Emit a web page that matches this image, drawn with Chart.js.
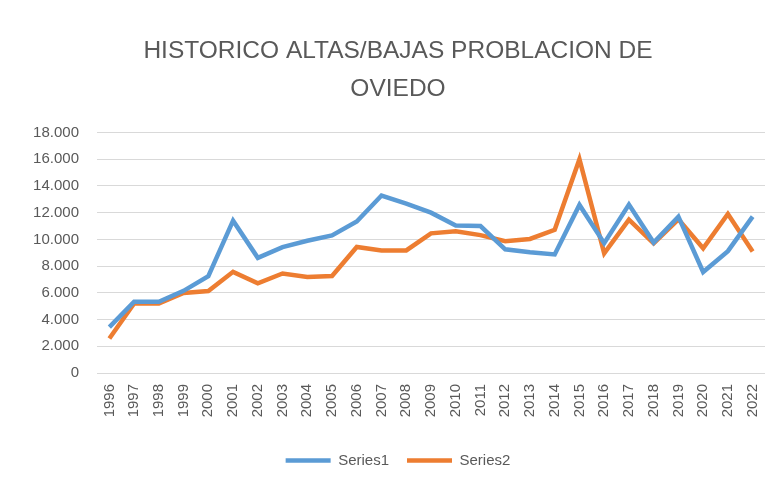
<!DOCTYPE html>
<html>
<head>
<meta charset="utf-8">
<script src="https://cdn.jsdelivr.net/npm/chart.js@4"></script>
<style>
  body { margin: 0; background: #fff; }
  #wrap { width: 775px; height: 484px; }
</style>
</head>
<body>
<div id="wrap"><canvas id="graphCanvas" width="775" height="484"></canvas></div>
<script>
var years = ['1996','1997','1998','1999','2000','2001','2002','2003','2004','2005','2006','2007','2008',
             '2009','2010','2011','2012','2013','2014','2015','2016','2017','2018','2019','2020','2021','2022'];
var series1 = [3430, 5330, 5330, 6150, 7250, 11400, 8620, 9420, 9900, 10300, 11340, 13280, 12680,
               12000, 11030, 11000, 9260, 9030, 8870, 12580, 9720, 12600, 9760, 11700, 7560, 9120, 11700];
var series2 = [2580, 5210, 5210, 5990, 6130, 7570, 6710, 7450, 7190, 7260, 9430, 9170, 9170,
               10450, 10600, 10320, 9860, 10030, 10720, 16000, 8960, 11480, 9700, 11500, 9330, 11900, 9100];
var seriesNames = ['Series1', 'Series2'];
var titleLines = ['HISTORICO ALTAS/BAJAS PROBLACION DE', 'OVIEDO'];

var fontFam = '"Liberation Sans Narrow", "Liberation Sans", Arial, sans-serif';
var textCol = '#595959';

function puntos(v) {
    return String(v).replace(/\B(?=(\d{3})+(?!\d))/g, '.');
}

var chartdata = {
    labels: years,
    datasets: [
        {
            label: seriesNames[0],
            data: series1,
            borderColor: '#5B9BD5',
            backgroundColor: '#5B9BD5',
            borderWidth: 4.5,
            pointRadius: 0,
            tension: 0
        },
        {
            label: seriesNames[1],
            data: series2,
            borderColor: '#ED7D31',
            backgroundColor: '#ED7D31',
            borderWidth: 4.5,
            pointRadius: 0,
            tension: 0
        }
    ]
};

var graph = new Chart(document.getElementById('graphCanvas'), {
    type: 'line',
    data: chartdata,
    options: {
        responsive: false,
        animation: false,
        layout: { padding: { left: 31, right: 10, top: 0, bottom: 6 } },
        plugins: {
            tooltip: { enabled: false },
            title: {
                display: true,
                text: titleLines,
                color: textCol,
                font: { family: fontFam, size: 24.5, weight: 'normal', lineHeight: 1.52 },
                padding: { top: 33, bottom: 25 }
            },
            legend: {
                position: 'bottom',
                labels: {
                    color: textCol,
                    font: { family: fontFam, size: 15 },
                    usePointStyle: true,
                    pointStyle: 'line',
                    pointStyleWidth: 45,
                    boxWidth: 45,
                    padding: 18
                }
            }
        },
        scales: {
            x: {
                offset: true,
                grid: { display: false, drawTicks: false },
                border: { display: false },
                ticks: {
                    color: textCol,
                    font: { family: fontFam, size: 15 },
                    minRotation: 90,
                    maxRotation: 90,
                    autoSkip: false,
                    padding: 11
                },
                afterFit: function (axis) {
                    axis.height = 62;
                    axis.paddingLeft = 0;
                    axis.paddingRight = 0;
                }
            },
            y: {
                min: 0,
                max: 18000,
                grid: { color: '#D9D9D9', lineWidth: 1, drawTicks: false },
                border: { display: false },
                ticks: {
                    stepSize: 2000,
                    color: textCol,
                    font: { family: fontFam, size: 15 },
                    padding: 18,
                    callback: function (v) { return puntos(v); }
                },
                afterFit: function (axis) { axis.width = 66; }
            }
        }
    }
});
</script>
</body>
</html>
